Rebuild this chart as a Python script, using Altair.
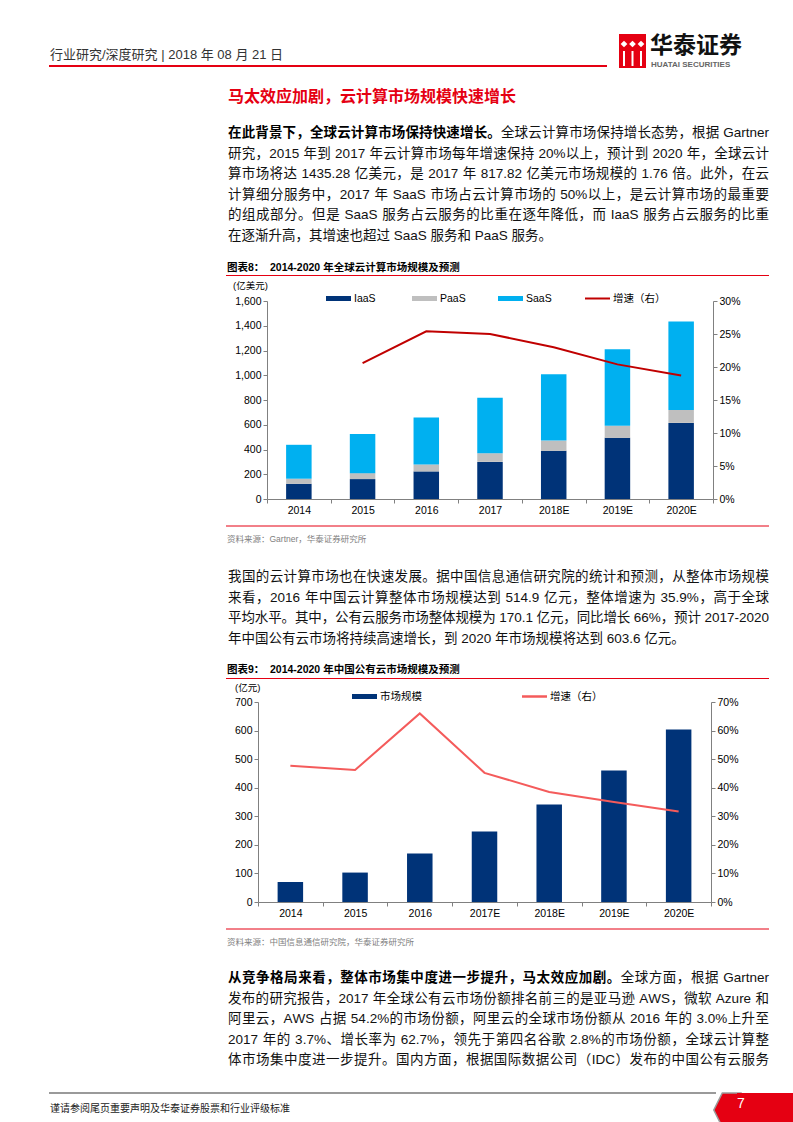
import altair as alt
import pandas as pd

# ---------------- values ----------------
years_global = ["2014", "2015", "2016", "2017", "2018E", "2019E", "2020E"]
segments = ["IaaS", "PaaS", "SaaS"]
iaas_values = [123, 161, 223, 300, 389, 494, 615]
paas_values = [41, 48, 56, 70, 83, 97, 104]
saas_values = [274, 317, 379, 448, 537, 620, 716]
global_growth_years = ["2015", "2016", "2017", "2018E", "2019E", "2020E"]
global_growth = [20.6, 25.4, 25.0, 23.0, 20.4, 18.7]

years_cn = ["2014", "2015", "2016", "2017E", "2018E", "2019E", "2020E"]
cn_market = [70, 103, 170.1, 247, 341, 460, 603.6]
cn_growth = [47.7, 46.2, 66.0, 45.2, 38.5, 35.0, 31.7]

global_left_ticks = [0, 200, 400, 600, 800, 1000, 1200, 1400, 1600]
global_right_ticks = [0, 5, 10, 15, 20, 25, 30]
cn_left_ticks = [0, 100, 200, 300, 400, 500, 600, 700]
cn_right_ticks = [0, 10, 20, 30, 40, 50, 60, 70]

growth_label = "增速（右）"
cn_bar_label = "市场规模"

# ---------------- page text ----------------
header_text = "行业研究/深度研究 | 2018 年 08 月 21 日"
brand_cn = "华泰证券"
brand_en = "HUATAI SECURITIES"
section_title = "马太效应加剧，云计算市场规模快速增长"

para1_lead = "在此背景下，全球云计算市场保持快速增长。"
para1_lines = [
    para1_lead + "全球云计算市场保持增长态势，根据 Gartner",
    "研究，2015 年到 2017 年云计算市场每年增速保持 20%以上，预计到 2020 年，全球云计",
    "算市场将达 1435.28 亿美元，是 2017 年 817.82 亿美元市场规模的 1.76 倍。此外，在云",
    "计算细分服务中，2017 年 SaaS 市场占云计算市场的 50%以上，是云计算市场的最重要",
    "的组成部分。但是 SaaS 服务占云服务的比重在逐年降低，而 IaaS 服务占云服务的比重",
    "在逐渐升高，其增速也超过 SaaS 服务和 PaaS 服务。",
]
fig8_no = "图表8："
fig8_title = "2014-2020 年全球云计算市场规模及预测"
fig8_unit = "(亿美元)"
fig8_source = "资料来源：Gartner，华泰证券研究所"

para2_lines = [
    "我国的云计算市场也在快速发展。据中国信息通信研究院的统计和预测，从整体市场规模",
    "来看，2016 年中国云计算整体市场规模达到 514.9 亿元，整体增速为 35.9%，高于全球",
    "平均水平。其中，公有云服务市场整体规模为 170.1 亿元，同比增长 66%，预计 2017-2020",
    "年中国公有云市场将持续高速增长，到 2020 年市场规模将达到 603.6 亿元。",
]
fig9_no = "图表9："
fig9_title = "2014-2020 年中国公有云市场规模及预测"
fig9_unit = "(亿元)"
fig9_source = "资料来源：中国信息通信研究院，华泰证券研究所"

para3_lead = "从竞争格局来看，整体市场集中度进一步提升，马太效应加剧。"
para3_lines = [
    para3_lead + "全球方面，根据 Gartner",
    "发布的研究报告，2017 年全球公有云市场份额排名前三的是亚马逊 AWS，微软 Azure 和",
    "阿里云，AWS 占据 54.2%的市场份额，阿里云的全球市场份额从 2016 年的 3.0%上升至",
    "2017 年的 3.7%、增长率为 62.7%，领先于第四名谷歌 2.8%的市场份额，全球云计算整",
    "体市场集中度进一步提升。国内方面，根据国际数据公司（IDC）发布的中国公有云服务",
]
footer_text = "谨请参阅尾页重要声明及华泰证券股票和行业评级标准"
page_number = "7"

# ---------------- styling / layout ----------------
W, H = 793, 1122
FONT = "Liberation Sans, Noto Sans CJK SC, sans-serif"
RED = "#E50012"
NAVY = "#003378"
CYAN = "#00B0F0"
LIGHT_GREY = "#BFBFBF"
LINE_RED = "#C00000"
LINE_SALMON = "#F45B5B"
AXIS_GREY = "#808080"

COL_L, COL_R = 228, 769
LINE_H = 20.6
BODY_SIZE = 13.5

G_X0, G_X1, G_Y0, G_Y1 = 267, 713, 499, 301   # global chart plot box
C_X0, C_X1, C_Y0, C_Y1 = 258, 711, 902, 702   # China chart plot box
BAR_W = 25.5

one = pd.DataFrame({"k": [0]})

# advance widths (per 1000 em) of the Latin glyphs used in the body text
ARIAL_W = {" ": 278, ".": 278, ",": 278, "%": 889, "-": 333, "(": 333, ")": 333,
           "a": 556, "e": 556, "n": 556, "r": 333, "t": 278, "u": 556, "z": 500,
           "A": 667, "C": 722, "D": 722, "G": 778, "I": 278, "P": 667, "S": 667, "W": 944}


def glyph_w(ch, size):
    if ch.isdigit():
        return 0.556 * size
    if ch in ARIAL_W:
        return ARIAL_W[ch] * size / 1000
    if ord(ch) < 128:
        return 0.556 * size
    return float(size)


def set_paragraph(lines, y0, size, lead_len=0, last_is_end=True):
    """Place every glyph of a justified paragraph; returns (regular, bold) frames."""
    rows = []
    for i, line in enumerate(lines):
        widths = [glyph_w(c, size) for c in line]
        stretch = [j for j in range(len(line) - 1)
                   if not (line[j].isascii() and line[j] != " " and
                           line[j + 1].isascii() and line[j + 1] != " ")]
        justify = not (last_is_end and i == len(lines) - 1)
        extra = (COL_R - COL_L - sum(widths)) / len(stretch) if (justify and stretch) else 0.0
        x = COL_L
        for j, (c, w) in enumerate(zip(line, widths)):
            if c != " ":
                rows.append({"x": x, "y": y0 + i * LINE_H, "ch": c,
                             "bold": i == 0 and j < lead_len})
            x += w + (extra if j in stretch else 0.0)
    df = pd.DataFrame(rows)
    return df[~df["bold"]], df[df["bold"]]


def glyph_layer(df, size, weight="normal", color="#111111"):
    return alt.Chart(df).mark_text(
        align="left", baseline="middle", font=FONT, fontSize=size,
        fontWeight=weight, color=color,
    ).encode(
        x=alt.X("x:Q", scale=None, axis=None),
        y=alt.Y("y:Q", scale=None, axis=None),
        text="ch:N",
    )


def label(text, x, y, size, color="#000000", weight="normal", align="left"):
    return alt.Chart(pd.DataFrame({"t": [text]})).mark_text(
        align=align, baseline="middle", font=FONT, fontSize=size,
        fontWeight=weight, color=color,
    ).encode(x=alt.value(x), y=alt.value(y), text="t:N")


def hrule(x1, x2, y, color, width=1.0):
    return alt.Chart(one).mark_rule(color=color, strokeWidth=width).encode(
        x=alt.value(x1), x2=alt.value(x2), y=alt.value(y))


def vrule(x, y1, y2, color, width=1.0):
    return alt.Chart(one).mark_rule(color=color, strokeWidth=width).encode(
        x=alt.value(x), y=alt.value(y1), y2=alt.value(y2))


def box(x1, x2, y1, y2, color):
    return alt.Chart(one).mark_rect(color=color).encode(
        x=alt.value(x1), x2=alt.value(x2), y=alt.value(y1), y2=alt.value(y2))


def axis_style(**kw):
    base = dict(title=None, grid=False, domainColor=AXIS_GREY, tickColor=AXIS_GREY,
                tickSize=4, labelFont=FONT, labelFontSize=10.5, labelColor="#000000",
                labelPadding=2)
    base.update(kw)
    return alt.Axis(**base)


def band_x(domain, x0, x1, y_axis_pos):
    return alt.X("year:N", scale=alt.Scale(type="band", domain=domain, range=[x0, x1],
                                           paddingInner=0, paddingOuter=0),
                 axis=axis_style(orient="bottom", offset=y_axis_pos - H, labelAngle=0,
                                 tickBand="extent"))


def point_x(domain, x0, x1):
    return alt.X("year:N", scale=alt.Scale(type="point", domain=domain, range=[x0, x1],
                                           padding=0.5), axis=None)


layers = []

# ---------------- page header ----------------
layers += [
    label(header_text, 50, 55, 13, color="#333333"),
    hrule(49, 607, 66, RED, 2),
    box(619, 646, 34, 68, RED),
]
for lx in (624, 632.5, 641):
    layers.append(alt.Chart(one).mark_point(shape="diamond", filled=True, color="white",
                                            opacity=1, size=45)
                  .encode(x=alt.value(lx), y=alt.value(44)))
    layers.append(vrule(lx, 51, 66, "white", 2))
layers += [
    label(brand_cn, 650, 46, 23, color="#111111", weight="bold"),
    label(brand_en, 651, 65, 8, color="#666666", weight="bold"),
    label(section_title, 228, 97, 16, color=RED, weight="bold"),
]

# ---------------- paragraph 1 ----------------
p1_reg, p1_bold = set_paragraph(para1_lines, 133, BODY_SIZE, lead_len=len(para1_lead))
layers += [glyph_layer(p1_reg, BODY_SIZE), glyph_layer(p1_bold, BODY_SIZE, "bold", "#000000")]

# ---------------- figure 8: global cloud market ----------------
layers += [
    label(fig8_no, 227, 267.5, 10.5, weight="bold"),
    label(fig8_title, 270, 267.5, 10.5, weight="bold"),
    hrule(226, COL_R, 275.5, RED, 1),
    label(fig8_unit, 233, 286, 9.5),
]

stack_df = pd.DataFrame({
    "year": years_global * 3,
    "segment": [s for s in segments for _ in years_global],
    "value": iaas_values + paas_values + saas_values,
    "rank": [k for k in range(3) for _ in years_global],
})
bars_global = alt.Chart(stack_df).mark_bar(size=BAR_W).encode(
    x=band_x(years_global, G_X0, G_X1, G_Y0),
    y=alt.Y("value:Q", stack="zero",
            scale=alt.Scale(domain=[0, 1600], range=[G_Y0, G_Y1], nice=False),
            axis=axis_style(orient="left", offset=-G_X0, values=global_left_ticks,
                            format=",d")),
    color=alt.Color("segment:N", scale=alt.Scale(domain=segments, range=[NAVY, LIGHT_GREY, CYAN]),
                    legend=None),
    order=alt.Order("rank:Q"),
)
line_global = alt.Chart(pd.DataFrame({
    "year": global_growth_years, "g": global_growth, "i": range(len(global_growth))
})).mark_line(color=LINE_RED, strokeWidth=2).encode(
    x=point_x(years_global, G_X0, G_X1),
    y=alt.Y("g:Q", scale=alt.Scale(domain=[0, 30], range=[G_Y0, G_Y1], nice=False),
            axis=axis_style(orient="right", offset=G_X1 - W, values=global_right_ticks,
                            labelExpr="datum.value + '%'")),
    order="i:Q",
)
layers += [bars_global, line_global]

# legend of figure 8
g_slots = [326, 412, 498]
leg_g = pd.DataFrame({"segment": segments, "x": g_slots,
                      "x2": [s + 25 for s in g_slots], "lx": [s + 28 for s in g_slots]})
layers += [
    alt.Chart(leg_g).mark_rect().encode(
        x=alt.X("x:Q", scale=None, axis=None), x2="x2:Q",
        y=alt.value(296), y2=alt.value(301),
        color=alt.Color("segment:N", scale=alt.Scale(domain=segments,
                                                     range=[NAVY, LIGHT_GREY, CYAN]), legend=None)),
    alt.Chart(leg_g).mark_text(align="left", baseline="middle", font=FONT, fontSize=10.5,
                               color="#000000").encode(
        x=alt.X("lx:Q", scale=None, axis=None), y=alt.value(298.5), text="segment:N"),
    hrule(585, 610, 298.5, LINE_RED, 2),
    label(growth_label, 613, 298.5, 10.5),
]

layers += [
    hrule(226, COL_R, 526, RED, 1),
    label(fig8_source, 227, 539, 8.5, color="#808080"),
]

# ---------------- paragraph 2 ----------------
p2_reg, _ = set_paragraph(para2_lines, 577, BODY_SIZE)
layers.append(glyph_layer(p2_reg, BODY_SIZE))

# ---------------- figure 9: China public cloud ----------------
layers += [
    label(fig9_no, 227, 670, 10.5, weight="bold"),
    label(fig9_title, 270, 670, 10.5, weight="bold"),
    hrule(226, COL_R, 678.5, RED, 1),
    label(fig9_unit, 235, 688, 9.5),
]
bars_cn = alt.Chart(pd.DataFrame({"year": years_cn, "v": cn_market})).mark_bar(
    size=BAR_W, color=NAVY).encode(
    x=band_x(years_cn, C_X0, C_X1, C_Y0),
    y=alt.Y("v:Q", scale=alt.Scale(domain=[0, 700], range=[C_Y0, C_Y1], nice=False),
            axis=axis_style(orient="left", offset=-C_X0, values=cn_left_ticks)),
)
line_cn = alt.Chart(pd.DataFrame({
    "year": years_cn, "g": cn_growth, "i": range(len(cn_growth))
})).mark_line(color=LINE_SALMON, strokeWidth=2).encode(
    x=point_x(years_cn, C_X0, C_X1),
    y=alt.Y("g:Q", scale=alt.Scale(domain=[0, 70], range=[C_Y0, C_Y1], nice=False),
            axis=axis_style(orient="right", offset=C_X1 - W, values=cn_right_ticks,
                            labelExpr="datum.value + '%'")),
    order="i:Q",
)
layers += [
    bars_cn, line_cn,
    box(352, 377, 694, 699, NAVY),
    label(cn_bar_label, 380, 696.5, 10.5),
    hrule(522, 547, 696.5, LINE_SALMON, 2.5),
    label(growth_label, 550, 696.5, 10.5),
    hrule(226, COL_R, 929, RED, 1),
    label(fig9_source, 227, 942, 8.5, color="#808080"),
]

# ---------------- paragraph 3 ----------------
p3_reg, p3_bold = set_paragraph(para3_lines, 978, BODY_SIZE, lead_len=len(para3_lead),
                                last_is_end=False)
layers += [glyph_layer(p3_reg, BODY_SIZE), glyph_layer(p3_bold, BODY_SIZE, "bold", "#000000")]

# ---------------- footer ----------------
layers += [
    hrule(49, 716, 1093, "#9a9a9a", 2),
    alt.Chart(one).mark_point(shape="M1,-1L-0.1,-1L-0.6,0L-0.1,1L1,1Z", filled=True,
                              color=RED, stroke="#9a9a9a", strokeWidth=1.5, opacity=1,
                              size=1156).encode(x=alt.value(724), y=alt.value(1110)),
    box(737, W, 1093, H, RED),
    label(page_number, 741, 1104, 14, color="white", align="center"),
    label(footer_text, 50, 1109, 10, color="#222222"),
]

page = alt.layer(*layers).resolve_scale(
    x="independent", y="independent", color="independent"
).properties(
    width=W, height=H, padding=0,
    autosize=alt.AutoSizeParams(type="none"),
    background="white",
).configure_view(stroke=None)

page.save("out.html", embed_options={"renderer": "svg", "actions": False})
